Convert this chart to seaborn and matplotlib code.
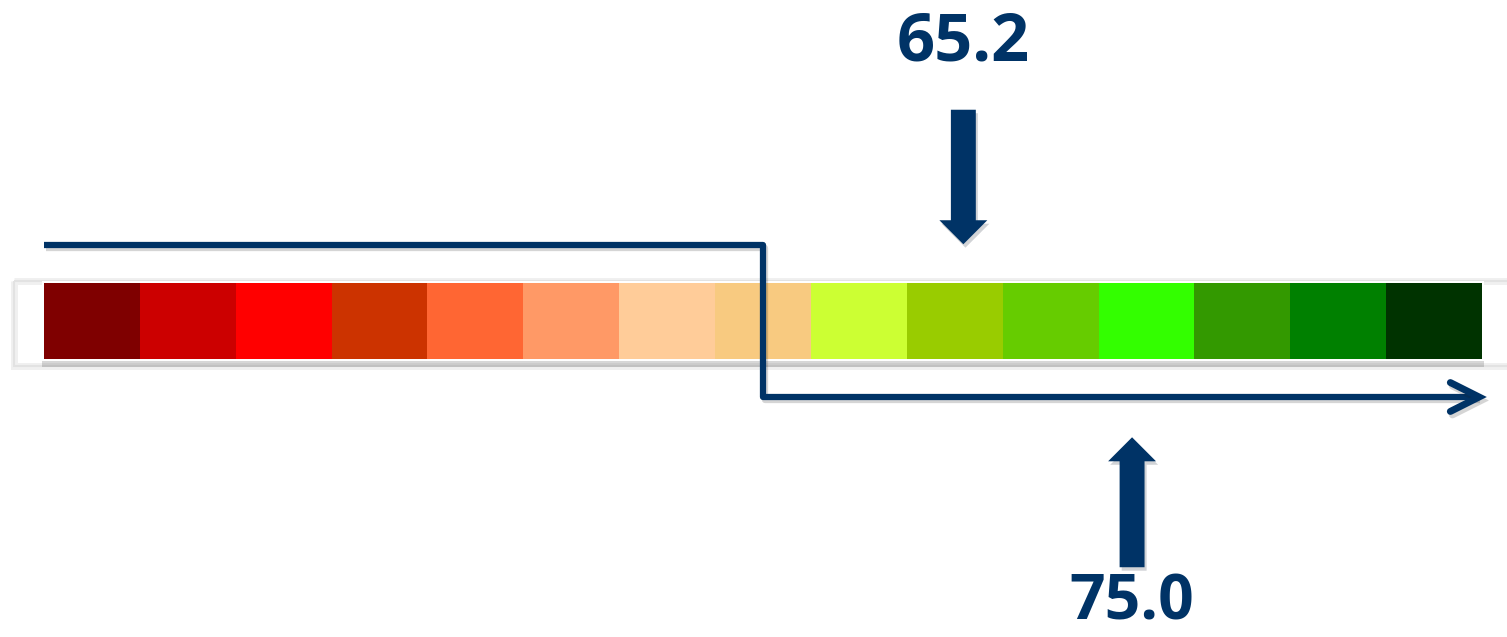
import numpy as np
import seaborn as sns
import matplotlib.pyplot as plt
import matplotlib.patheffects as pe
from matplotlib.colors import ListedColormap
from matplotlib.patches import FancyArrow, Rectangle

# gauge cells, from worst (left) to best (right)
cell_colors = ["#7F0000", "#CC0000", "#FF0000", "#CC3300", "#FF6633",
               "#FF9966", "#FFCC99", "#F8CA80", "#CCFF33", "#99CC00",
               "#66CC00", "#33FF00", "#339900", "#008000", "#003300"]

# value markers and where they sit along the gauge (in cells)
marker_labels = ["65.2", "75.0"]
marker_pos = [9.59, 11.35]

# the step line drops from above to below the gauge here
step_pos = 7.5

navy = "#003366"
n = len(cell_colors)
cells = np.arange(n).reshape(1, n)

sns.set_theme(style="white")
plt.rcParams['font.family'] = ['Open Sans', 'DejaVu Sans']

fig = plt.figure(figsize=(15.07, 6.37), dpi=100)
ax = fig.add_axes([0, 0, 1, 1])

# the colour strip itself
sns.heatmap(cells, cmap=ListedColormap(cell_colors), cbar=False, ax=ax,
            xticklabels=False, yticklabels=False, linewidths=0)

ax.set_xlim(-0.459, 15.261)
ax.set_ylim(4.658, -3.724)
ax.axis("off")

shadow = [pe.SimplePatchShadow(offset=(1.5, -2.5), alpha=0.18), pe.Normal()]
line_shadow = [pe.SimpleLineShadow(offset=(1.5, -2.5), alpha=0.18), pe.Normal()]

# soft frame and white border behind the strip
ax.add_patch(Rectangle((-0.31, -0.03), 15.7, 1.12, fill=False,
                       edgecolor="#f0f0f0", lw=5, zorder=0))
ax.add_patch(Rectangle((-0.31, -0.03), 15.7, 1.12, fill=False,
                       edgecolor="#e2e2e2", lw=1.5, zorder=0))
ax.add_patch(Rectangle((-0.02, -0.03), 15.04, 1.06, facecolor="white",
                       edgecolor="none", zorder=0.5,
                       path_effects=[pe.SimplePatchShadow(offset=(0, -4), alpha=0.22),
                                     pe.Normal()]))

# step line with open arrow head
ax.plot([0, step_pos, step_pos, n - 0.04], [-0.5, -0.5, 1.5, 1.5],
        color=navy, lw=4.5, solid_joinstyle="round", solid_capstyle="butt",
        zorder=3, path_effects=line_shadow)
ax.plot([n - 0.33, n - 0.03, n - 0.33], [1.31, 1.5, 1.69],
        color=navy, lw=5, solid_joinstyle="miter", solid_capstyle="round",
        zorder=3, path_effects=line_shadow)

# block arrows pointing at the gauge
ax.add_patch(FancyArrow(marker_pos[0], -2.28, 0, 1.77, width=0.26,
                        head_width=0.5, head_length=0.316,
                        length_includes_head=True, color=navy, lw=0,
                        zorder=3, path_effects=shadow))
ax.add_patch(FancyArrow(marker_pos[1], 3.74, 0, -1.71, width=0.26,
                        head_width=0.5, head_length=0.316,
                        length_includes_head=True, color=navy, lw=0,
                        zorder=3, path_effects=shadow))

ax.text(marker_pos[0], -2.934, marker_labels[0], ha="center", va="baseline",
        fontsize=48, fontweight="bold", color=navy)
ax.text(marker_pos[1], 4.63, marker_labels[1], ha="center", va="bottom",
        fontsize=45, fontweight="bold", color=navy)

fig.savefig("out.png", dpi=100)
